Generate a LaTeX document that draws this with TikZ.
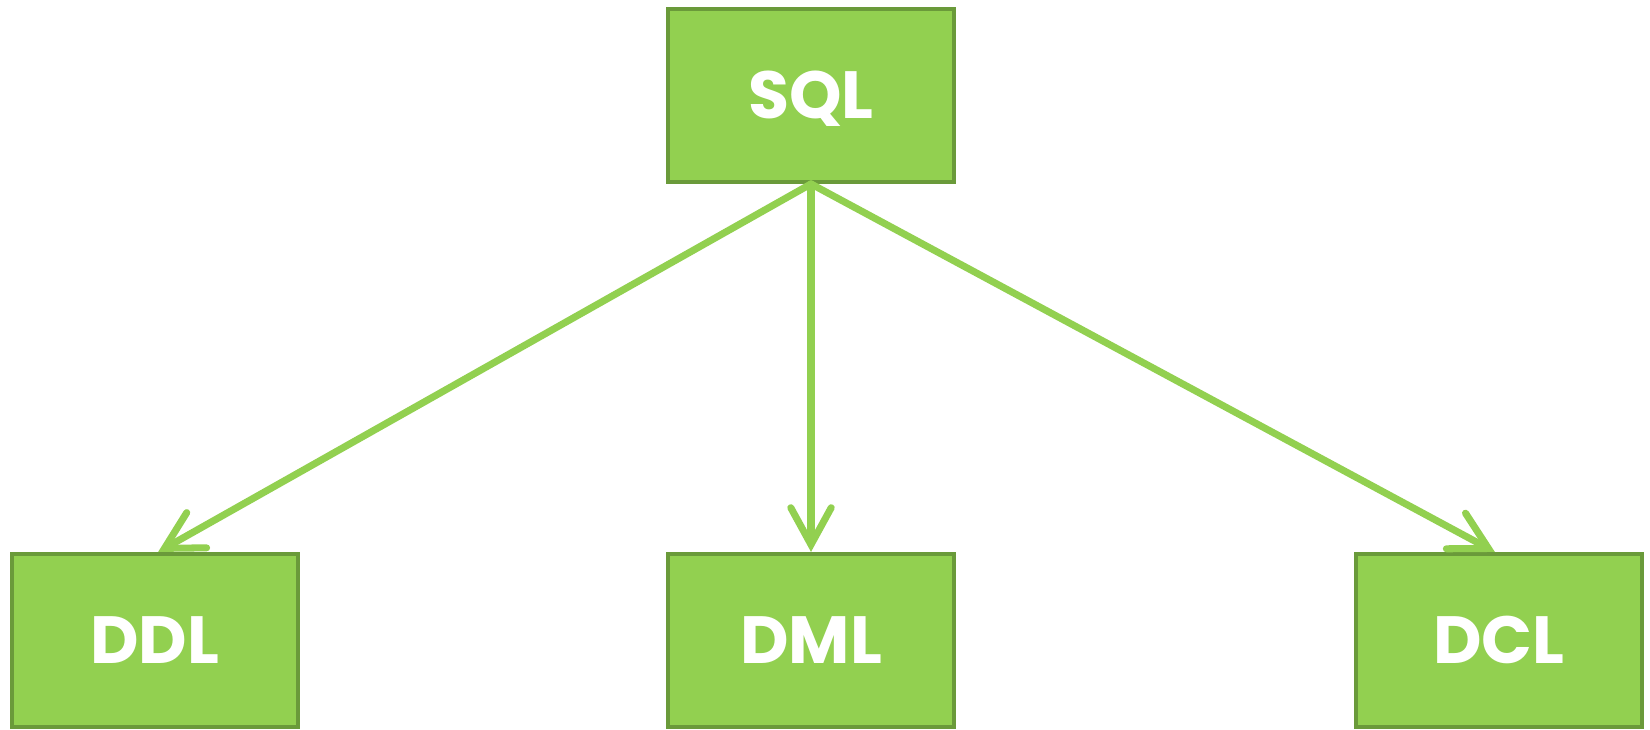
\documentclass[tikz,border=0pt]{standalone}
\usepackage{fontspec}
\setmainfont{Poppins}
\usetikzlibrary{positioning, arrows.meta}
\definecolor{leaf}{HTML}{92D050}
\definecolor{leafdark}{HTML}{6A9A3A}
\tikzstyle{sqlbox} = [rectangle, minimum width=5.72cm, minimum height=3.46cm, text height=0.92cm, text depth=0pt, text centered, draw=leafdark, line width=2.2pt, fill=leaf, text=white, font=\fontsize{38}{44}\selectfont\bfseries]
\tikzstyle{arrow} = [draw=leaf, line width=4pt, line cap=round, -{Straight Barb[length=21pt, width=23pt, line cap=round]}]

\begin{document}
\begin{tikzpicture}[node distance=7.36cm]
\useasboundingbox (0,0) rectangle (33,-14.58);

\node (sql) [sqlbox] at (16.22,-1.91) {SQL};
\node (dml) [sqlbox, below=of sql] {DML};
\node (ddl) [sqlbox, left=7.33cm of dml] {DDL};
\node (dcl) [sqlbox, right=7.96cm of dml] {DCL};

\draw [arrow] (sql.south) -- ([xshift=0.07cm]ddl.north);
\draw [arrow] (sql.south) -- (dml.north);
\draw [arrow] (sql.south) -- ([xshift=-0.08cm]dcl.north);

\end{tikzpicture}
\end{document}
